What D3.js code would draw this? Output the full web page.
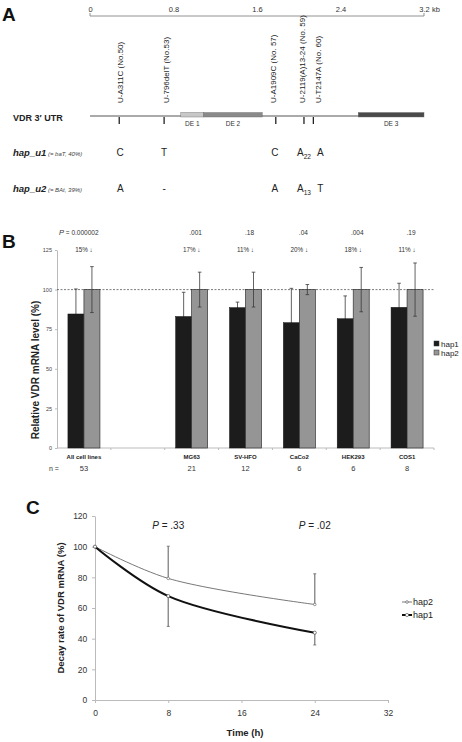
<!DOCTYPE html>
<html><head><meta charset="utf-8">
<script src="https://cdn.jsdelivr.net/npm/d3@7"></script>
<style>body{margin:0;background:#fff}svg{display:block}text{font-family:"Liberation Sans",Arial,sans-serif}</style>
</head><body>
<svg id="c" width="462" height="742"></svg>
<script>
// ---------- Panel A data ----------
const scaleTicks = [0, 0.8, 1.6, 2.4, 3.2];
const snpNames = ["U-A311C (No.50)", "U-796delT (No.53)", "U-A1909C (No. 57)", "U-2119(A)13-24 (No. 59)", "U-T2147A (No. 60)"];
const snpPos = [0.28, 0.71, 1.78, 2.05, 2.14];
const elemNames = ["DE 1", "DE 2", "DE 3"];
const elemStart = [0.87, 1.09, 2.57];
const elemEnd = [1.09, 1.65, 3.2];
const hapU1 = ["C", "T", "C", "A|22", "A"];
const hapU2 = ["A", "-", "A", "A|13", "T"];
// ---------- Panel B data ----------
const cellLines = ["All cell lines", "", "MG63", "SV-HFO", "CaCo2", "HEK293", "COS1"];
const hap1Level = [84.6, null, 83, 88.6, 79.1, 81.6, 88.8];
const hap1LevelErr = [15.8, null, 15.3, 3.5, 21.7, 14.4, 15.2];
const hap2Level = [100, null, 100, 100, 100, 100, 100];
const hap2LevelErr = [14.5, null, 11, 11, 3.2, 14, 16.8];
const pValues = ["0.000002", null, ".001", ".18", ".04", ".004", ".19"];
const decrease = ["15%", null, "17%", "11%", "20%", "18%", "11%"];
const nCounts = ["53", null, "21", "12", "6", "6", "8"];
const levelTicks = [0, 25, 50, 75, 100, 125];
// ---------- Panel C data ----------
const timeH = [0, 8, 24];
const hap2Decay = [100, 79.3, 62.3];
const hap2DecayErr = [0, 21, 20];
const hap1Decay = [100, 67.8, 43.9];
const hap1DecayErr = [0, 19.8, 8];
const decayPLabels = [".33", ".02"];
const decayPTime = [8, 24];
const timeTicks = [0, 8, 16, 24, 32];
const decayTicks = [0, 20, 40, 60, 80, 100, 120];

const svg = d3.select("#c");
svg.append("rect").attr("width", 462).attr("height", 742).attr("fill", "#fff");

function panelLetter(t, x, y) {
  svg.append("text").attr("x", x).attr("y", y).text(t)
    .attr("font-size", 19).attr("font-weight", "bold").attr("fill", "#111");
}

// ================= Panel A =================
panelLetter("A", 2, 21);
const xa = d3.scaleLinear().domain([0, 3.2]).range([90, 424]);
const ga = svg.append("g");
const axA = ga.append("g").attr("transform", "translate(0,16)")
  .call(d3.axisTop(xa).tickValues(scaleTicks).tickSize(0).tickPadding(4).tickFormat(d => d));
axA.selectAll("path,line").attr("stroke", "#777").attr("stroke-width", 0.8);
axA.select(".domain").attr("d", `M${xa(0)},-3V0H${xa(3.2)}V-3`);
axA.selectAll("text").attr("font-family", "Liberation Serif, serif").attr("font-size", 7.5).attr("fill", "#333");
ga.append("text").attr("x", 432).attr("y", 12).text("kb").attr("font-family", "Liberation Serif, serif").attr("font-size", 7.5).attr("fill", "#333");

// UTR line
const utrY = 116;
ga.append("line").attr("x1", xa(0)).attr("x2", xa(3.2)).attr("y1", utrY).attr("y2", utrY).attr("stroke", "#aaa").attr("stroke-width", 2);
const elemFill = ["#c8c8c8", "#8a8a8a", "#4a4a4a"];
elemNames.forEach((n, i) => {
  ga.append("rect").attr("x", xa(elemStart[i])).attr("width", xa(elemEnd[i]) - xa(elemStart[i]))
    .attr("y", utrY - 3.5).attr("height", 4.5).attr("fill", elemFill[i]).attr("stroke", "#666").attr("stroke-width", 0.4);
  ga.append("text").attr("x", (xa(elemStart[i]) + xa(elemEnd[i])) / 2).attr("y", 126).attr("text-anchor", "middle")
    .attr("font-family", "Liberation Serif, serif").attr("font-size", 6.5).attr("fill", "#333").text(n);
});
ga.append("text").attr("x", 13).attr("y", 121).text("VDR 3\u2032 UTR").attr("font-size", 9).attr("font-weight", "bold").attr("fill", "#222");

const labelDx = [4, 5, 0, 1, 8];
snpPos.forEach((p, i) => {
  ga.append("line").attr("x1", xa(p)).attr("x2", xa(p)).attr("y1", utrY + 1).attr("y2", utrY + 8).attr("stroke", "#222").attr("stroke-width", 1.3);
  ga.append("text").attr("transform", `translate(${xa(p) + labelDx[i]},103) rotate(-90)`)
    .attr("font-size", 8).attr("fill", "#222").text(snpNames[i]);
});

function hapRow(label, sub, alleles, y) {
  const t = ga.append("text").attr("x", 13).attr("y", y).attr("fill", "#222");
  t.append("tspan").text(label).attr("font-size", 9.5).attr("font-weight", "bold").attr("font-style", "italic");
  t.append("tspan").text(" " + sub).attr("font-size", 6).attr("font-style", "italic").attr("fill", "#444");
  const allDx = [1, 0, -1, 0, 7];
  alleles.forEach((a, i) => {
    const [base, s] = a.split("|");
    const tt = ga.append("text").attr("x", xa(snpPos[i]) + allDx[i]).attr("y", y).attr("text-anchor", "middle")
      .attr("font-size", 10).attr("fill", "#222");
    tt.append("tspan").text(base);
    if (s) tt.append("tspan").text(s).attr("font-size", 6.5).attr("dy", 3);
  });
}
hapRow("hap_u1", "(= baT, 40%)", hapU1, 156);
hapRow("hap_u2", "(= BAt, 39%)", hapU2, 192);

// ================= Panel B =================
panelLetter("B", 2, 248);
const xb = d3.scaleBand().domain(d3.range(cellLines.length)).range([57, 434]);
const yb = d3.scaleLinear().domain([0, 125]).range([448, 250]);
const gb = svg.append("g");
// y axis
const ayb = gb.append("g").attr("transform", "translate(57,0)").call(d3.axisLeft(yb).tickValues(levelTicks).tickSize(2).tickSizeOuter(0));
ayb.selectAll("path,line").attr("stroke", "#bbb");
ayb.selectAll("text").attr("font-size", 5.5).attr("fill", "#444");
// x axis
gb.append("line").attr("x1", 57).attr("x2", 434).attr("y1", yb(0)).attr("y2", yb(0)).attr("stroke", "#bbb");
d3.range(1, cellLines.length + 1).forEach(i => {
  const x = 57 + i * xb.step();
  gb.append("line").attr("x1", x).attr("x2", x).attr("y1", yb(0)).attr("y2", yb(0) + 2).attr("stroke", "#bbb");
});
// dashed 100 line
gb.append("line").attr("x1", 57).attr("x2", 435).attr("y1", yb(100)).attr("y2", yb(100))
  .attr("stroke", "#444").attr("stroke-width", 0.7).attr("stroke-dasharray", "2,1.5");
const bw = 16;
function errBar(ex, v, e) {
  gb.append("line").attr("x1", ex).attr("x2", ex).attr("y1", yb(v + e)).attr("y2", yb(v - e)).attr("stroke", "#3a3a3a").attr("stroke-width", 0.8);
  [v + e, v - e].forEach(w => gb.append("line").attr("x1", ex - 1.8).attr("x2", ex + 1.8).attr("y1", yb(w)).attr("y2", yb(w)).attr("stroke", "#3a3a3a").attr("stroke-width", 0.8));
}
cellLines.forEach((c, i) => {
  const cx = xb(i) + xb.bandwidth() / 2;
  if (hap1Level[i] != null) {
    errBar(cx - bw / 2, hap1Level[i], hap1LevelErr[i]);
    gb.append("rect").attr("x", cx - bw).attr("width", bw).attr("y", yb(hap1Level[i])).attr("height", yb(0) - yb(hap1Level[i]))
      .attr("fill", "#1c1c1c").attr("stroke", "#111").attr("stroke-width", 0.5);
    gb.append("rect").attr("x", cx).attr("width", bw).attr("y", yb(hap2Level[i])).attr("height", yb(0) - yb(hap2Level[i]))
      .attr("fill", "#959595").attr("stroke", "#333").attr("stroke-width", 0.7);
    errBar(cx + bw / 2, hap2Level[i], hap2LevelErr[i]);
    gb.append("text").attr("x", cx).attr("y", 252).attr("text-anchor", "middle").attr("font-size", 6.3).attr("fill", "#333").text(decrease[i] + " \u2193");
    gb.append("text").attr("x", cx).attr("y", 459).attr("text-anchor", "middle").attr("font-size", 6).attr("font-weight", "bold").attr("fill", "#222").text(c);
    gb.append("text").attr("x", cx).attr("y", 471).attr("text-anchor", "middle").attr("font-size", 7.5).attr("fill", "#333").text(nCounts[i]);
    if (i === 0) {
      const t = gb.append("text").attr("x", 59).attr("y", 235).attr("font-size", 6.5).attr("fill", "#333");
      t.append("tspan").text("P").attr("font-style", "italic").attr("font-size", 7.5);
      t.append("tspan").text("  =  " + pValues[i]);
    } else {
      gb.append("text").attr("x", cx + 4).attr("y", 235).attr("text-anchor", "middle").attr("font-size", 6.5).attr("fill", "#333").text(pValues[i]);
    }
  }
});
gb.append("text").attr("x", 49).attr("y", 471).attr("font-size", 7).attr("fill", "#333").text("n =");
gb.append("text").attr("transform", `translate(39,370) rotate(-90)`).attr("text-anchor", "middle")
  .attr("font-size", 10).attr("font-weight", "bold").attr("fill", "#222").text("Relative VDR mRNA level (%)");
// legend
[["hap1", "#1c1c1c"], ["hap2", "#959595"]].forEach(([n, f], i) => {
  const y = 344 + i * 9;
  gb.append("rect").attr("x", 434).attr("y", y - 3).attr("width", 5).attr("height", 5).attr("fill", f).attr("stroke", "#333").attr("stroke-width", 0.5);
  gb.append("text").attr("x", 441).attr("y", y + 2.5).attr("font-size", 8).attr("fill", "#222").text(n);
});

// ================= Panel C =================
panelLetter("C", 26, 514);
const xc = d3.scaleLinear().domain([0, 32]).range([95, 388]);
const yc = d3.scaleLinear().domain([0, 120]).range([700, 516]);
const gc = svg.append("g");
const axc = gc.append("g").attr("transform", "translate(0,700)").call(d3.axisBottom(xc).tickValues(timeTicks).tickSize(3).tickSizeOuter(0));
axc.selectAll("path,line").attr("stroke", "#bbb");
axc.selectAll("text").attr("font-size", 8.5).attr("fill", "#333").attr("dy", "1.15em");
const ayc = gc.append("g").attr("transform", "translate(95,0)").call(d3.axisLeft(yc).tickValues(decayTicks).tickSize(3).tickSizeOuter(0));
ayc.selectAll("path,line").attr("stroke", "#bbb");
ayc.selectAll("text").attr("font-size", 8.5).attr("fill", "#333").attr("dx", "-0.2em");
gc.append("text").attr("x", 245).attr("y", 736).attr("text-anchor", "middle").attr("font-size", 9.5).attr("font-weight", "bold").attr("fill", "#222").text("Time (h)");
gc.append("text").attr("transform", `translate(64,608) rotate(-90)`).attr("text-anchor", "middle")
  .attr("font-size", 9.5).attr("font-weight", "bold").attr("fill", "#222").text("Decay rate of VDR mRNA (%)");

// error bars (hap2 upward, hap1 downward)
timeH.forEach((t, i) => {
  const pairs = [[hap2Decay[i], hap2Decay[i] + hap2DecayErr[i]], [hap1Decay[i], hap1Decay[i] - hap1DecayErr[i]]];
  pairs.forEach(([a, b]) => {
    if (a === b) return;
    gc.append("line").attr("x1", xc(t)).attr("x2", xc(t)).attr("y1", yc(a)).attr("y2", yc(b)).attr("stroke", "#8a8a8a").attr("stroke-width", 1.4);
    gc.append("line").attr("x1", xc(t) - 1.5).attr("x2", xc(t) + 1.5).attr("y1", yc(b)).attr("y2", yc(b)).attr("stroke", "#666").attr("stroke-width", 0.8);
  });
});
const line = d3.line().x((d, i) => xc(timeH[i])).y(d => yc(d)).curve(d3.curveCatmullRom.alpha(0.5));
gc.append("path").datum(hap2Decay).attr("d", line).attr("fill", "none").attr("stroke", "#555").attr("stroke-width", 0.8);
gc.append("path").datum(hap1Decay).attr("d", line).attr("fill", "none").attr("stroke", "#111").attr("stroke-width", 2);
hap2Decay.forEach((v, i) => gc.append("circle").attr("cx", xc(timeH[i])).attr("cy", yc(v)).attr("r", 1.3).attr("fill", "#fff").attr("stroke", "#555").attr("stroke-width", 0.6));
hap1Decay.forEach((v, i) => gc.append("circle").attr("cx", xc(timeH[i])).attr("cy", yc(v)).attr("r", 1.6).attr("fill", "#fff").attr("stroke", "#333").attr("stroke-width", 0.6));
decayPLabels.forEach((p, i) => {
  const t = gc.append("text").attr("x", xc(decayPTime[i])).attr("y", 529).attr("text-anchor", "middle").attr("font-size", 10).attr("fill", "#222");
  t.append("tspan").text("P").attr("font-style", "italic");
  t.append("tspan").text(" = " + p);
});
// legend
[["hap2", "#555", 0.8, 1.3], ["hap1", "#111", 2, 1.6]].forEach(([n, c, w, r], i) => {
  const y = 602 + i * 13;
  gc.append("line").attr("x1", 402).attr("x2", 412).attr("y1", y).attr("y2", y).attr("stroke", c).attr("stroke-width", w);
  gc.append("circle").attr("cx", 407).attr("cy", y).attr("r", r).attr("fill", "#fff").attr("stroke", "#444").attr("stroke-width", 0.6);
  gc.append("text").attr("x", 413).attr("y", y + 3).attr("font-size", 9).attr("fill", "#222").text(n);
});
</script>
</body></html>
